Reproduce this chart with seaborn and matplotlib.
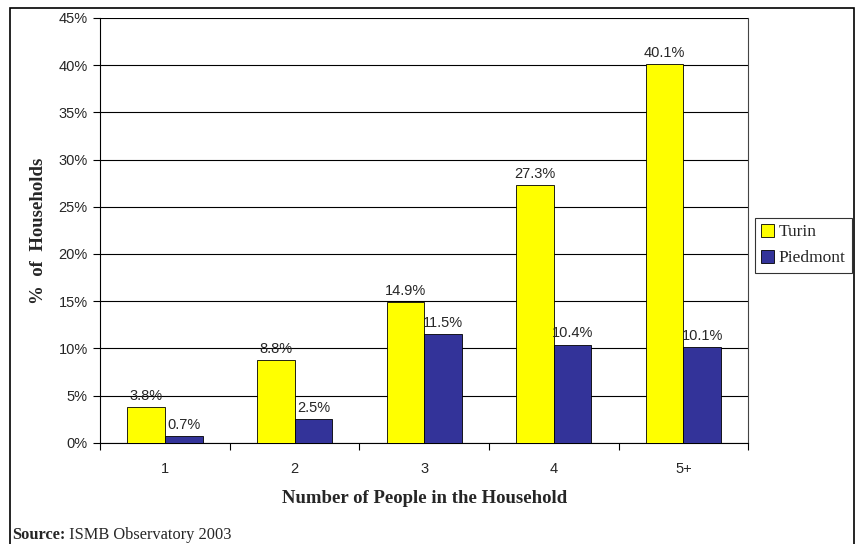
import numpy as np
import pandas as pd
import matplotlib
matplotlib.use('Agg')
import matplotlib.pyplot as plt
import seaborn as sns
from matplotlib.ticker import FuncFormatter, FixedLocator

categories = ['1', '2', '3', '4', '5+']
turin = [3.8, 8.8, 14.9, 27.3, 40.1]
piedmont = [0.7, 2.5, 11.5, 10.4, 10.1]
series = ['Turin', 'Piedmont']
colors = ['#FFFF00', '#333399']

df = pd.DataFrame({
    'size': categories * 2,
    'pct': turin + piedmont,
    'area': ['Turin'] * len(categories) + ['Piedmont'] * len(categories),
})

sns.set_style('white')
sans = ['Liberation Sans', 'DejaVu Sans']
serif = ['Liberation Serif', 'DejaVu Serif']

fig = plt.figure(figsize=(8.56, 5.44), dpi=100)
ax = fig.add_axes([0.117, 0.186, 0.757, 0.781])

sns.barplot(data=df, x='size', y='pct', hue='area', hue_order=series,
            palette=colors, width=0.58, edgecolor='black', linewidth=0.6,
            saturation=1, ax=ax, zorder=3)

ax.set_ylim(0, 45)
ax.set_xlim(-0.5, len(categories) - 0.5)
ax.set_yticks(np.arange(0, 46, 5))
ax.yaxis.set_major_formatter(FuncFormatter(lambda v, p: f'{v:.0f}%'))
ax.yaxis.grid(True, color='black', linewidth=0.8, zorder=0)
ax.set_axisbelow(True)

for spine in ax.spines.values():
    spine.set_visible(True)
    spine.set_color('black')
    spine.set_linewidth(0.8)
ax.spines['top'].set_visible(False)
ax.spines['right'].set_color('#444444')

ax.tick_params(axis='y', which='major', length=5, width=0.8, color='black',
               direction='out', left=True, pad=4)
ax.tick_params(axis='x', which='major', length=0, pad=14)
ax.xaxis.set_minor_locator(FixedLocator(np.arange(-0.5, len(categories), 1)))
ax.tick_params(axis='x', which='minor', length=5, width=0.8, color='black',
               direction='out', bottom=True)

for lab in ax.get_xticklabels() + ax.get_yticklabels():
    lab.set_fontfamily(sans)
    lab.set_fontsize(10.5)

for container in ax.containers:
    ax.bar_label(container, labels=[f'{v:.1f}%' for v in container.datavalues],
                 padding=3, fontsize=10.5, family=sans)

ax.set_xlabel('Number of People in the Household', fontsize=13.5,
              fontweight='bold', family=serif, labelpad=10)
ax.set_ylabel('%  of  Households', fontsize=13.5, fontweight='bold',
              family=serif, labelpad=8)

leg = ax.legend(loc='center left', bbox_to_anchor=(1.01, 0.465),
                frameon=True, fancybox=False, edgecolor='black',
                prop={'family': serif, 'size': 12.5}, handlelength=0.75,
                handleheight=0.75, handletextpad=0.3, borderpad=0.35,
                labelspacing=0.55, borderaxespad=0)
leg.get_frame().set_linewidth(0.8)

src = fig.text(0.014, 0.002, 'Source:', fontsize=11.8, fontweight='bold',
               family=serif, ha='left', va='bottom')
ax.annotate(' ISMB Observatory 2003', xy=(1, 0), xycoords=src,
            fontsize=11.8, family=serif, ha='left', va='bottom')

fig.patches.append(plt.Rectangle((0.012, -0.01), 0.986, 0.996,
                                 transform=fig.transFigure, fill=False,
                                 edgecolor='black', linewidth=1.2))

fig.savefig('out.png', dpi=100)
